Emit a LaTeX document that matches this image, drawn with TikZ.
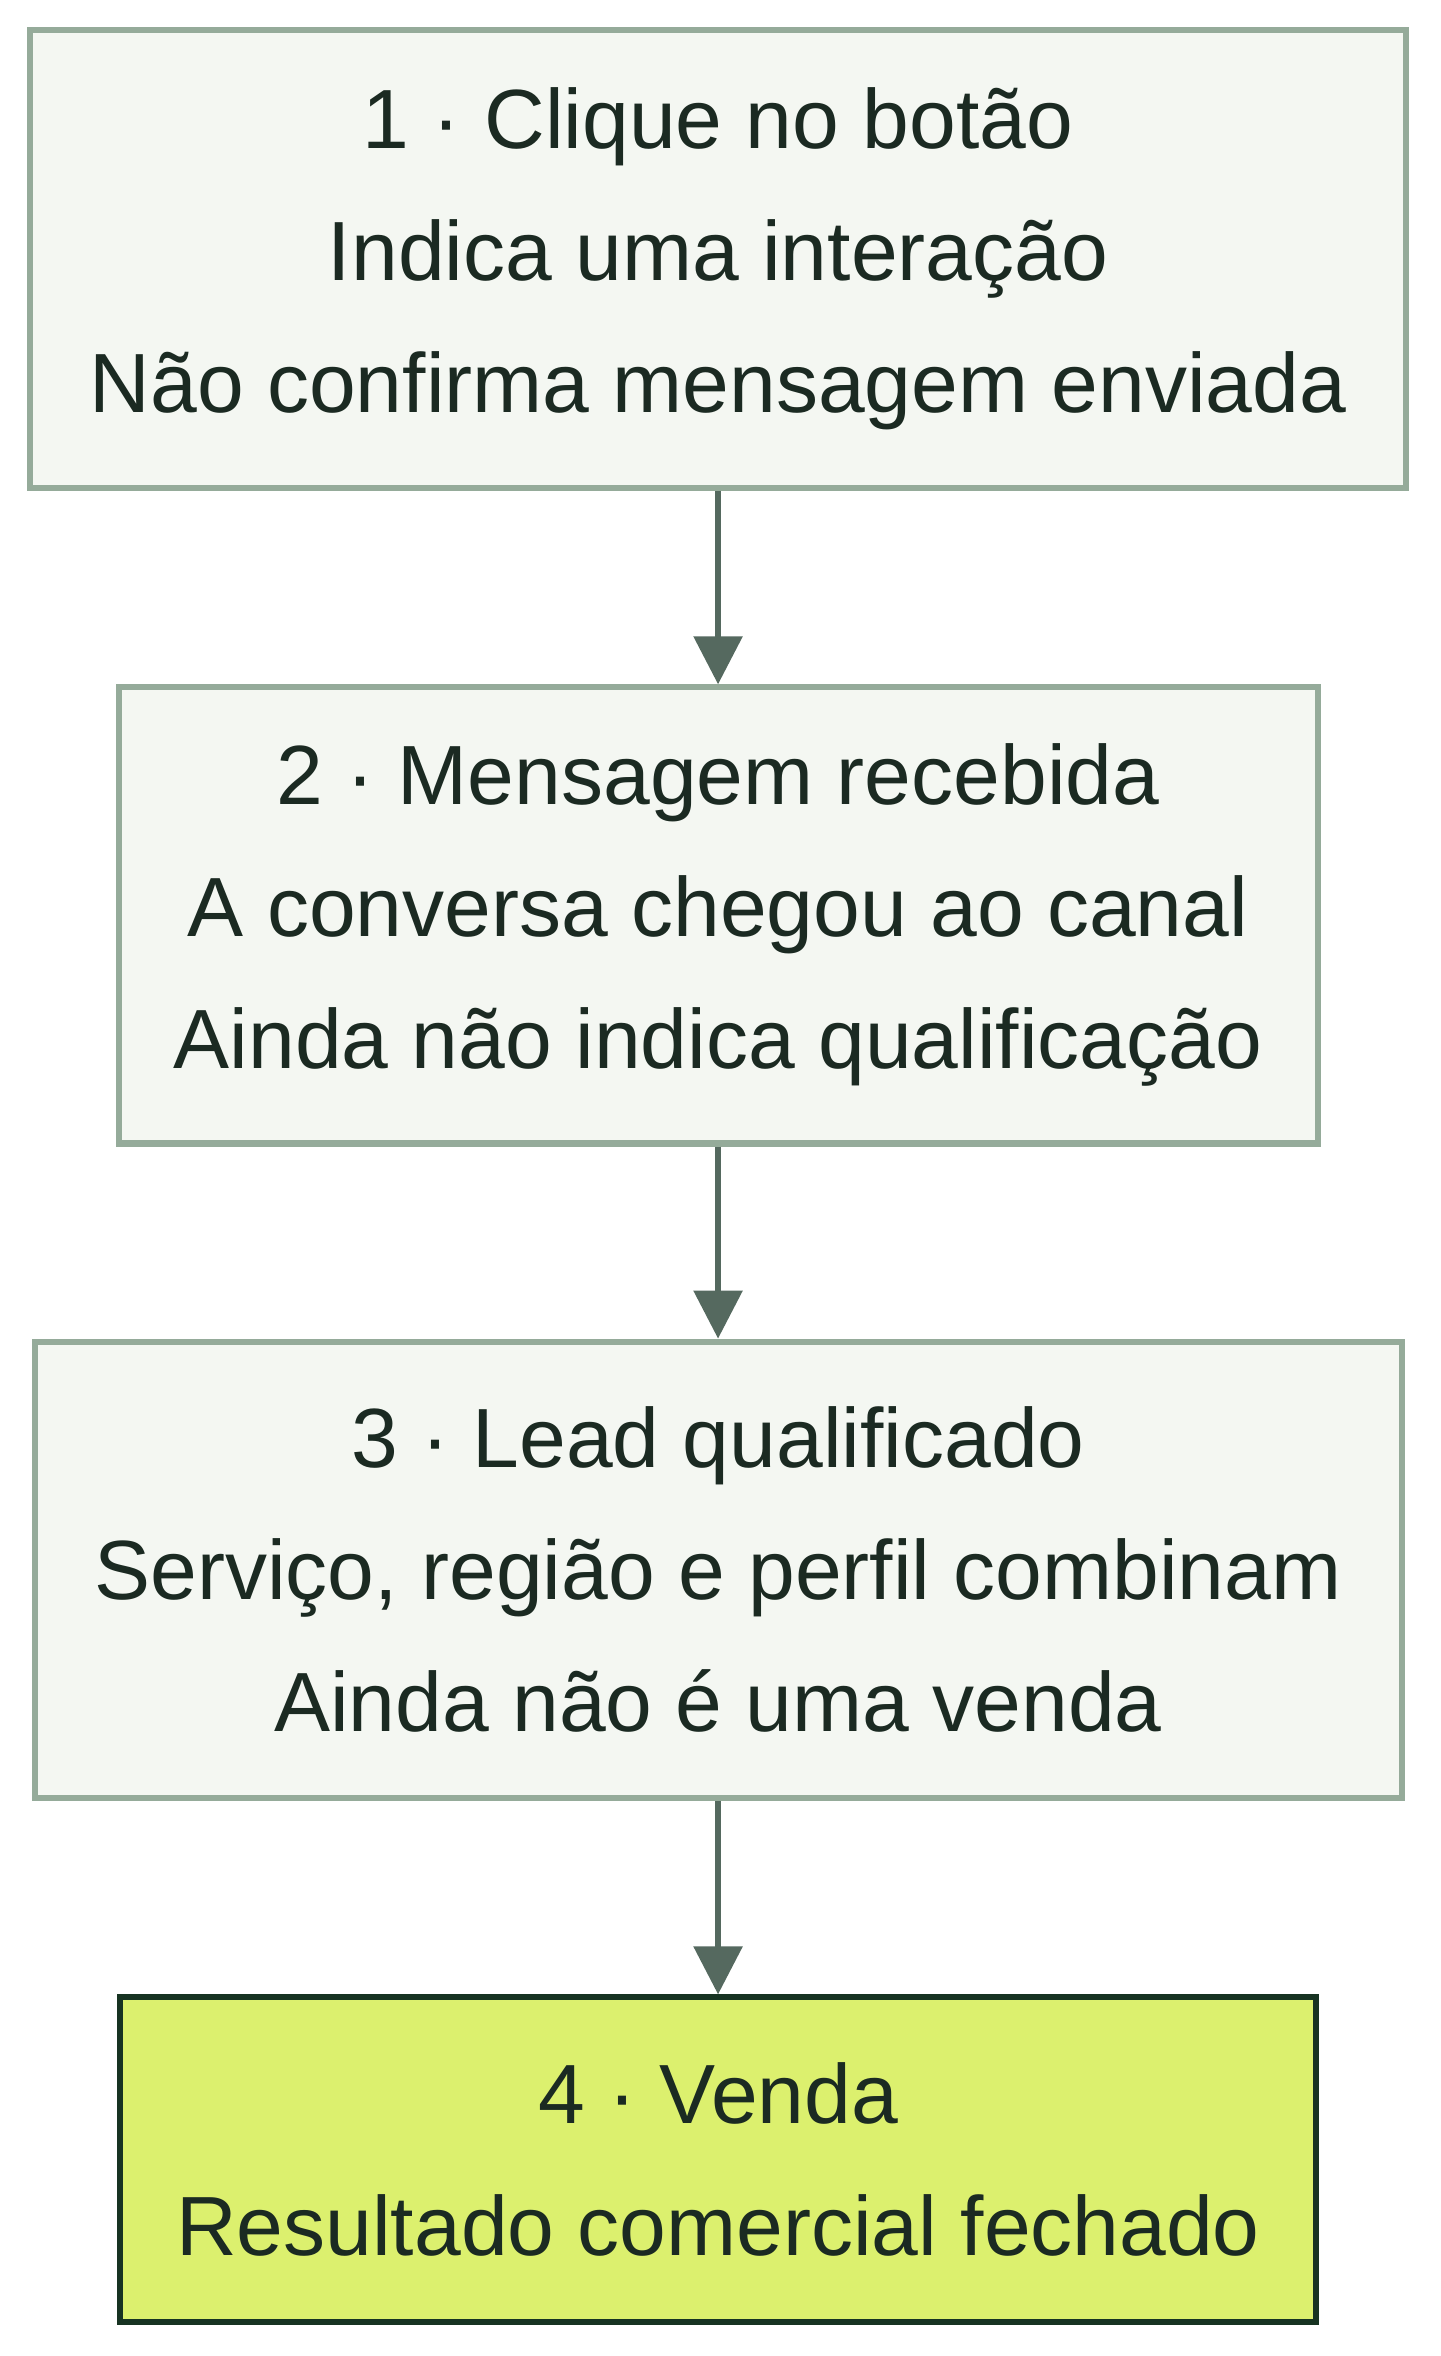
\documentclass[tikz,border=0pt]{standalone}
\usepackage{fontspec}
\setmainfont{Liberation Sans}
\usetikzlibrary{positioning, arrows.meta}
\tikzset{>=latex}
\definecolor{stepfill}{HTML}{F4F7F2}
\definecolor{stepline}{HTML}{95AB9A}
\definecolor{steptext}{HTML}{1B2A22}
\definecolor{flowline}{HTML}{55695F}
\definecolor{salefill}{HTML}{DCF06E}
\definecolor{saleline}{HTML}{173322}

\begin{document}
\begin{tikzpicture}[x=0.75pt,y=-0.75pt,
  stage/.style={draw=stepline, fill=stepfill, line width=3pt, text=steptext,
    align=center, font=\fontsize{42}{66}\selectfont, inner sep=0pt},
  sale/.style={stage, draw=saleline, fill=salefill},
  flow/.style={draw=flowline, line width=3pt, -{Triangle[length=24pt,width=24pt]}}]
\useasboundingbox (0,0) rectangle (960,1570);
% stages of the funnel
\node[stage, minimum width=687.75pt, minimum height=228.75pt] (click) at (478.5,172.5)
  {1 · Clique no botão\\Indica uma interação\\Não confirma mensagem enviada};
\node[stage, minimum width=599.25pt, minimum height=228pt] (msg) at (478.5,610)
  {2 · Mensagem recebida\\A conversa chegou ao canal\\Ainda não indica qualificação};
\node[stage, minimum width=683.25pt, minimum height=228pt] (lead) at (478.5,1046)
  {3 · Lead qualificado\\Serviço, região e perfil combinam\\Ainda não é uma venda};
\node[sale, minimum width=597.75pt, minimum height=162pt] (sale) at (478.5,1439)
  {4 · Venda\\Resultado comercial fechado};
% connectors
\draw[flow] (click) -- (msg);
\draw[flow] (msg) -- (lead);
\draw[flow] (lead) -- (sale);
\end{tikzpicture}
\end{document}
